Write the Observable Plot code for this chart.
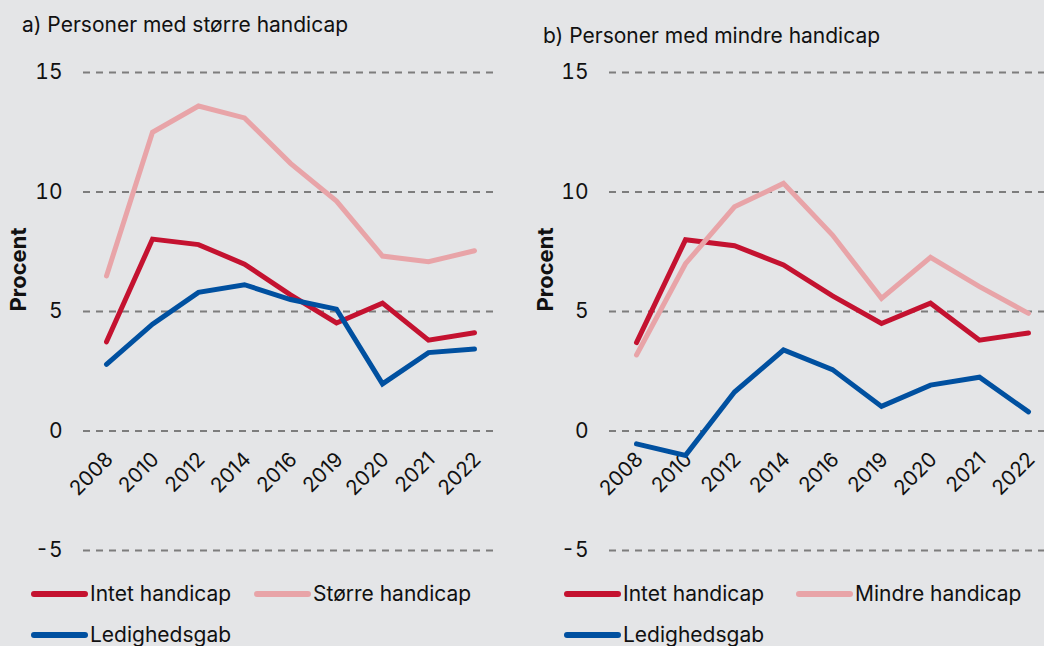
<!DOCTYPE html>
<html>
<head>
<meta charset="utf-8">
<script src="https://cdn.jsdelivr.net/npm/d3@7"></script>
<script src="https://cdn.jsdelivr.net/npm/@observablehq/plot@0.6"></script>
<style>
  html, body { margin: 0; padding: 0; background: #e4e5e7; overflow: hidden; }
  #wrap { position: relative; width: 1044px; height: 646px; overflow: hidden; background: #e4e5e7; font-family: Inter, "Noto Sans", sans-serif; color: #111; }
  .title { position: absolute; font-size: 21px; line-height: 24px; white-space: nowrap; color: #111; }
  .panel { position: absolute; top: 0; }
  .leg { position: absolute; display: flex; align-items: center; font-size: 21px; white-space: nowrap; color: #111; line-height: 24px; }
  .leg svg { display: block; margin-right: 2px; }
</style>
</head>
<body>
<div id="wrap">
  <div class="title" style="left:22px; top:13px;">a) Personer med større handicap</div>
  <div class="title" style="left:543px; top:24px;">b) Personer med mindre handicap</div>
  <div class="panel" id="pa" style="left:0px;"></div>
  <div class="panel" id="pb" style="left:520px;"></div>
</div>
<script>
// Categories (x-axis tick labels)
const years = ["2008", "2010", "2012", "2014", "2016", "2019", "2020", "2021", "2022"];
const yTicks = [-5, 0, 5, 10, 15];

// Panel a) Personer med større handicap
const aIntet  = [3.73, 8.03, 7.80, 6.98, 5.70, 4.52, 5.35, 3.80, 4.11];
const aStorre = [6.49, 12.50, 13.60, 13.10, 11.20, 9.62, 7.32, 7.08, 7.54];
const aGab    = [2.79, 4.47, 5.80, 6.12, 5.50, 5.10, 1.97, 3.28, 3.43];

// Panel b) Personer med mindre handicap
const bIntet  = [3.70, 8.00, 7.75, 6.95, 5.65, 4.50, 5.35, 3.80, 4.10];
const bMindre = [3.18, 7.00, 9.38, 10.36, 8.20, 5.55, 7.27, 6.04, 4.92];
const bGab    = [-0.54, -1.02, 1.63, 3.39, 2.57, 1.03, 1.92, 2.25, 0.80];

const RED = "#c41230", PINK = "#e8a4a8", BLUE = "#0050a0";

function rows(series) {
  const out = [];
  for (const [name, vals] of series) vals.forEach((v, i) => out.push({series: name, year: years[i], value: v}));
  return out;
}

function panel(series, colors, opts) {
  const data = rows(series);
  const p = Plot.plot({
    width: opts.width,
    height: 560,
    marginTop: 72,
    marginBottom: 10,
    marginLeft: opts.marginLeft,
    marginRight: opts.marginRight,
    style: {background: "transparent", fontFamily: "Inter, 'Noto Sans', sans-serif", overflow: "visible"},
    x: {type: "point", domain: years, padding: 0.5, axis: null},
    y: {domain: [-5, 15], axis: null},
    color: {domain: series.map(s => s[0]), range: colors},
    marks: [
      Plot.ruleY(yTicks, {stroke: "#7d7d7d", strokeWidth: 2, strokeDasharray: "7,6"}),
      Plot.axisY({ticks: yTicks, tickSize: 0, tickPadding: 21, fontSize: 21, tickFormat: d => String(d), label: null, fill: "#111"}),
      Plot.text(years, {x: d => d, y: () => 0, text: d => d, rotate: -45, textAnchor: "end", fontSize: 20.5, dx: 3, dy: 25, fill: "#111"}),
      Plot.text(["Procent"], {frameAnchor: "left", dx: opts.labelDx, rotate: -90, fontSize: 22, fontWeight: "bold", fill: "#111"}),
      Plot.line(data, {x: "year", y: "value", z: "series", stroke: "series", strokeWidth: 5, strokeLinecap: "round", strokeLinejoin: "miter", strokeMiterlimit: 4})
    ]
  });
  p.style.maxWidth = "none";
  return p;
}

document.getElementById("pa").appendChild(panel(
  [["Intet handicap", aIntet], ["Større handicap", aStorre], ["Ledighedsgab", aGab]],
  [RED, PINK, BLUE],
  {width: 520, marginLeft: 83, marginRight: 23, labelDx: -65}
));
document.getElementById("pb").appendChild(panel(
  [["Intet handicap", bIntet], ["Mindre handicap", bMindre], ["Ledighedsgab", bGab]],
  [RED, PINK, BLUE],
  {width: 534, marginLeft: 89, marginRight: 0, labelDx: -64}
));

function legItem(x, y, color, label) {
  const d = document.createElement("div");
  d.className = "leg";
  d.style.left = x + "px";
  d.style.top = (y - 12) + "px";
  d.innerHTML = `<svg width="57" height="10"><line x1="3" y1="5" x2="54" y2="5" stroke="${color}" stroke-width="6" stroke-linecap="round"/></svg><span>${label}</span>`;
  document.getElementById("wrap").appendChild(d);
}
legItem(31, 594, RED, "Intet handicap");
legItem(254, 594, PINK, "Større handicap");
legItem(31, 635, BLUE, "Ledighedsgab");
legItem(564, 594, RED, "Intet handicap");
legItem(796, 594, PINK, "Mindre handicap");
legItem(564, 635, BLUE, "Ledighedsgab");
</script>
</body>
</html>
